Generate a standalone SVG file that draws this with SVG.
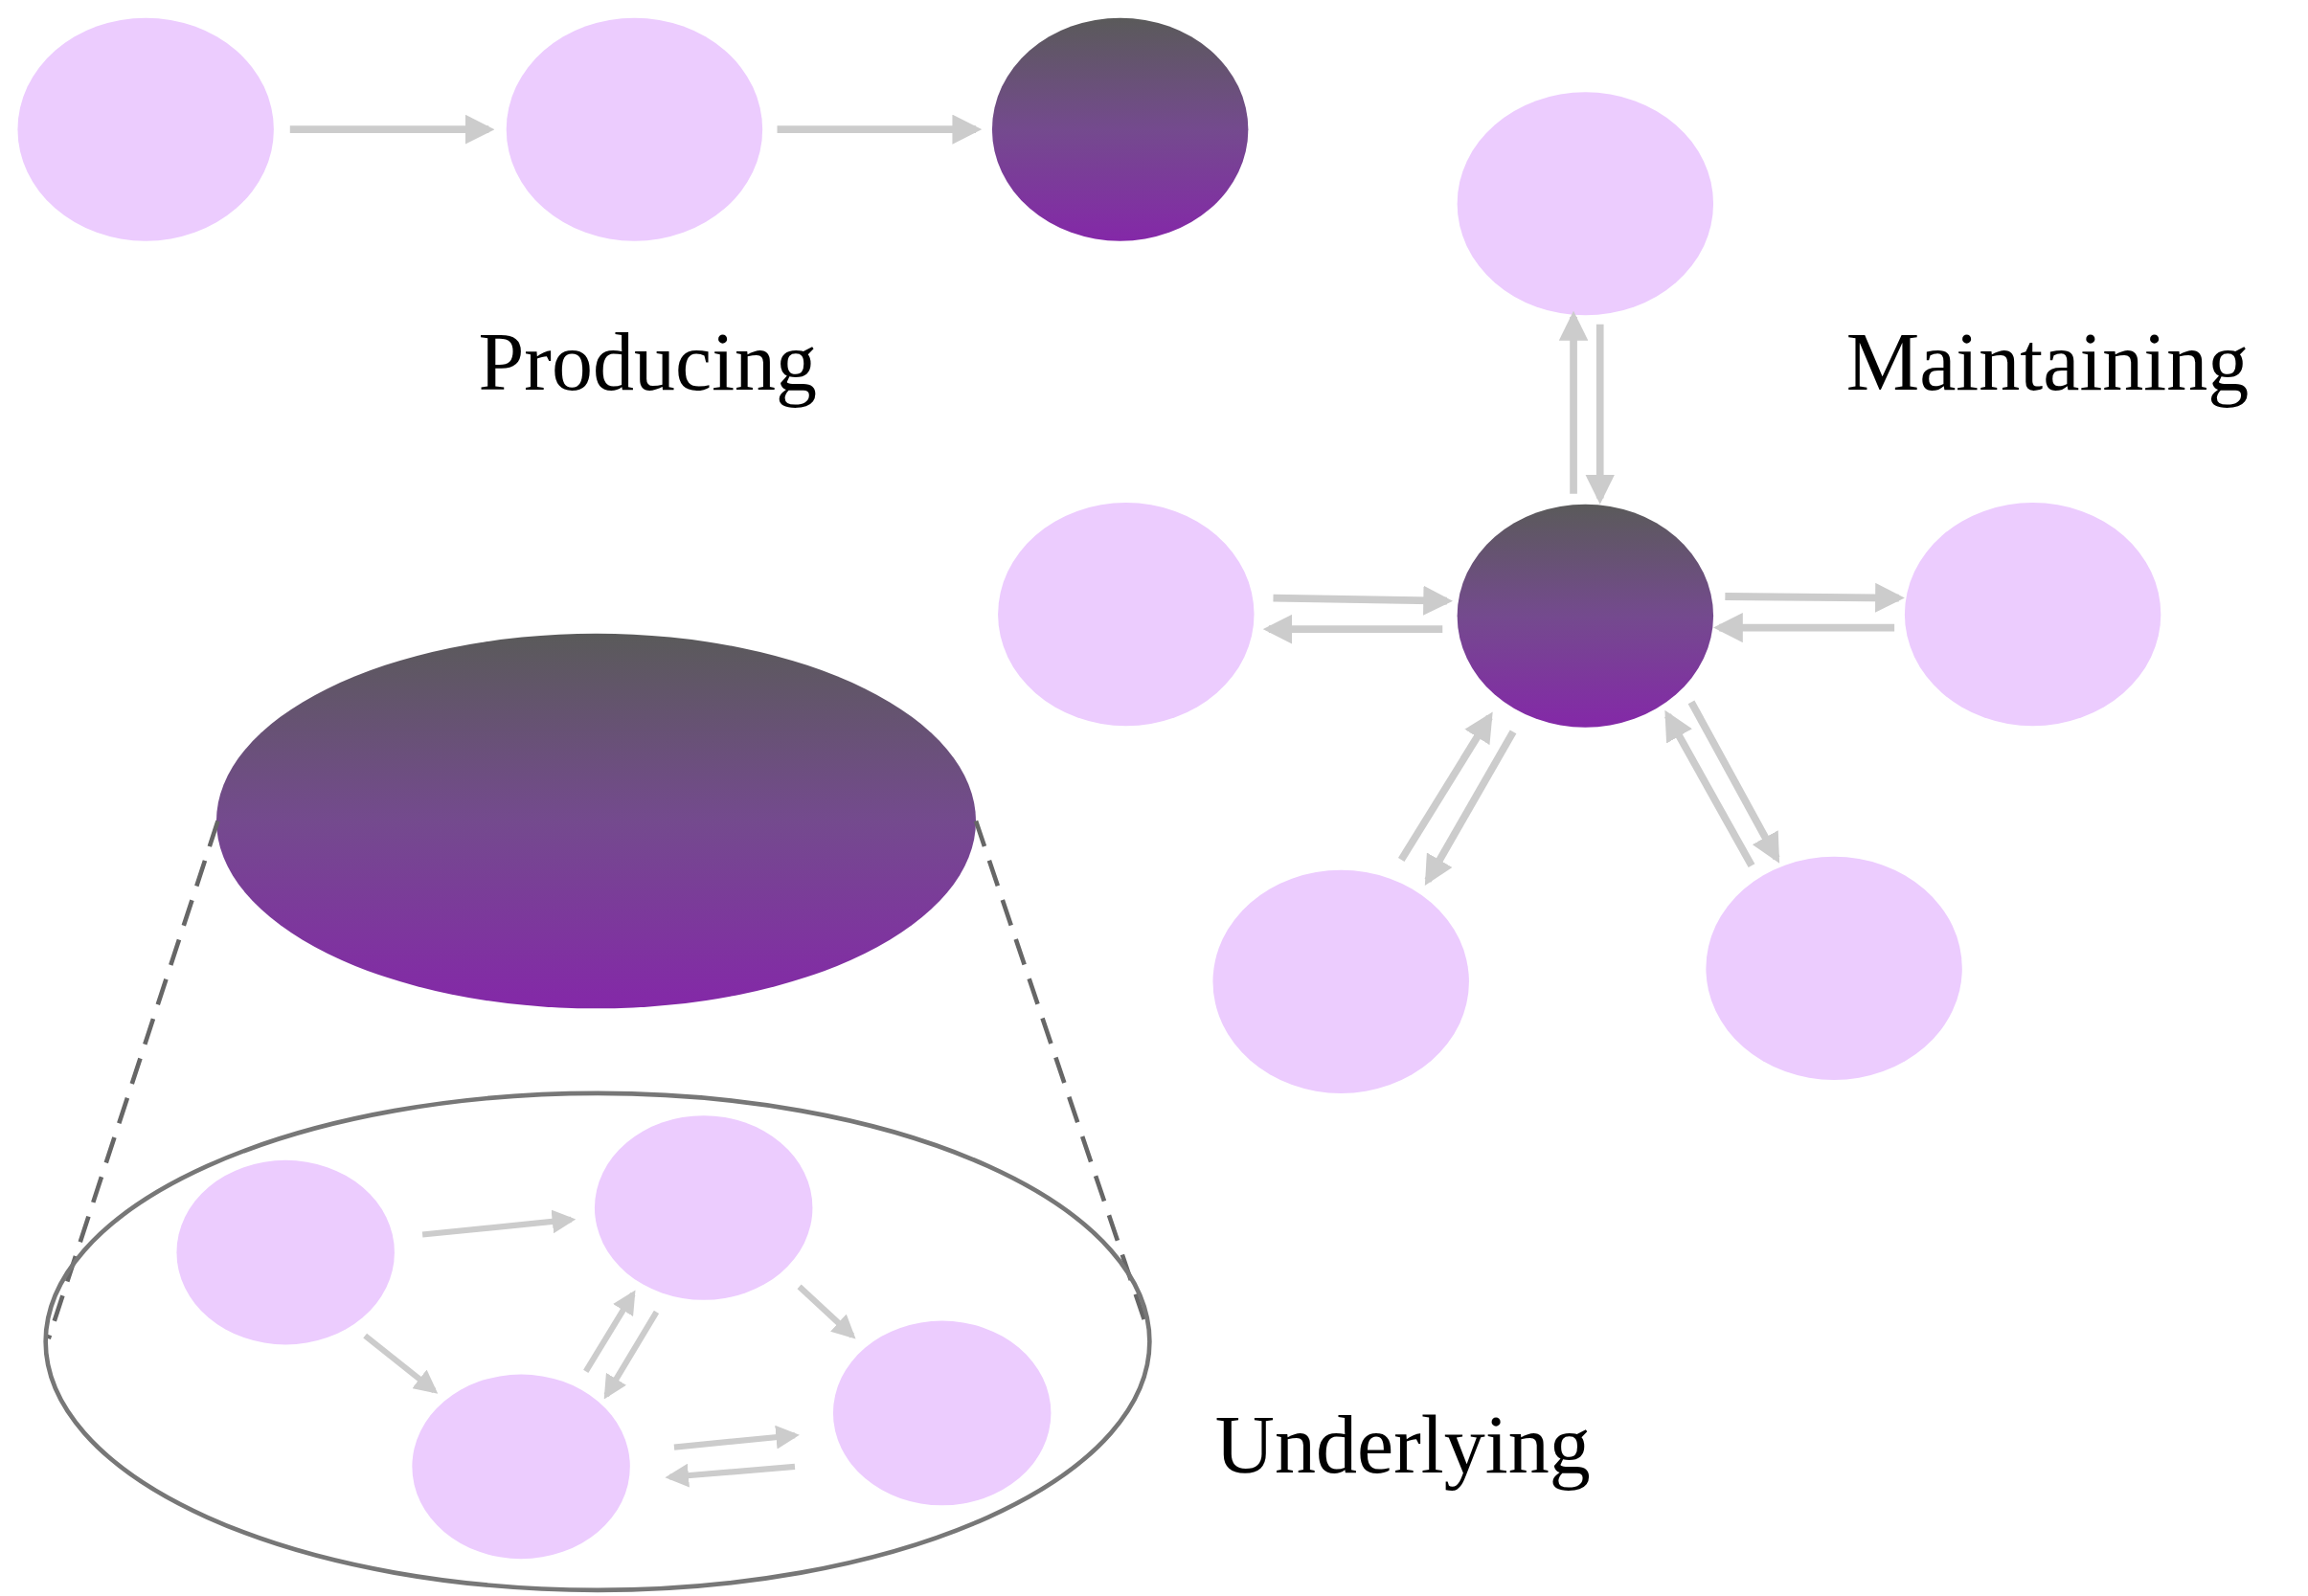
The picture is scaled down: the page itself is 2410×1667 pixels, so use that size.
<svg xmlns="http://www.w3.org/2000/svg" width="2410" height="1667" viewBox="0 0 2410 1667">
<defs>
<linearGradient id="dg" x1="0" y1="0" x2="0" y2="1">
<stop offset="0" stop-color="#5a5a5a"/><stop offset="0.5" stop-color="#744a8e"/><stop offset="1" stop-color="#8428a8"/>
</linearGradient>
<marker id="ah" viewBox="0 0 10 10" refX="8" refY="5" markerWidth="4" markerHeight="4" orient="auto" markerUnits="strokeWidth">
<path d="M0,0 L10,5 L0,10 z" fill="#cccccc"/>
</marker>
<style>
.l{fill:#ecccfe}
.d{fill:url(#dg)}
.a{stroke:#cccccc;stroke-width:5;fill:none;marker-end:url(#ah)}
.t{font-family:"Liberation Serif","DejaVu Serif",serif;font-size:56px;fill:#000}
</style>
</defs>
<rect width="2410" height="1667" fill="#fff"/>
<g transform="scale(1.537 1.5536)">
<g id="p1"><ellipse class="l" cx="99" cy="87" rx="87" ry="75"/></g>
<g id="p2"><ellipse class="l" cx="431" cy="87" rx="87" ry="75"/></g>
<g id="p3"><ellipse class="d" cx="761" cy="87" rx="87" ry="75"/></g>
<g id="mc"><ellipse class="d" cx="1077" cy="414" rx="87" ry="75"/></g>
<g id="mt"><ellipse class="l" cx="1077" cy="137" rx="87" ry="75"/></g>
<g id="ml"><ellipse class="l" cx="765" cy="413" rx="87" ry="75"/></g>
<g id="mr"><ellipse class="l" cx="1381" cy="413" rx="87" ry="75"/></g>
<g id="mbl"><ellipse class="l" cx="911" cy="660" rx="87" ry="75"/></g>
<g id="mbr"><ellipse class="l" cx="1246" cy="651" rx="87" ry="75"/></g>
<g id="big"><ellipse class="d" cx="405" cy="552" rx="258" ry="126"/></g>
<g id="zoom">
<line x1="148" y1="552" x2="33" y2="900" stroke="#666" stroke-width="3" stroke-dasharray="18 10"/>
<line x1="663" y1="552" x2="780" y2="895" stroke="#666" stroke-width="3" stroke-dasharray="18 10"/>
<ellipse cx="406" cy="902" rx="375" ry="167" fill="none" stroke="#777" stroke-width="3"/>
</g>
<g id="ua"><ellipse class="l" cx="194" cy="842" rx="74" ry="62"/></g>
<g id="ub"><ellipse class="l" cx="478" cy="812" rx="74" ry="62"/></g>
<g id="uc"><ellipse class="l" cx="354" cy="986" rx="74" ry="62"/></g>
<g id="ud"><ellipse class="l" cx="640" cy="950" rx="74" ry="62"/></g>
<g id="connectors">
<line class="a" x1="197" y1="87" x2="332" y2="87"/>
<line class="a" x1="528" y1="87" x2="663" y2="87"/>
<line class="a" x1="1069" y1="332" x2="1069" y2="213"/>
<line class="a" x1="1087" y1="218" x2="1087" y2="335"/>
<line class="a" x1="865" y1="402" x2="983" y2="404"/>
<line class="a" x1="980" y1="423" x2="862" y2="423"/>
<line class="a" x1="1172" y1="401" x2="1290" y2="402"/>
<line class="a" x1="1287" y1="422" x2="1168" y2="422"/>
<line class="a" x1="952" y1="578" x2="1012" y2="482"/>
<line class="a" x1="1028" y1="492" x2="970" y2="592"/>
<line class="a" x1="1190" y1="582" x2="1133" y2="481"/>
<line class="a" x1="1149" y1="472" x2="1207" y2="577"/>
<line class="a" style="stroke-width:4" x1="287" y1="830" x2="388" y2="820"/>
<line class="a" style="stroke-width:4" x1="248" y1="898" x2="295" y2="935"/>
<line class="a" style="stroke-width:4" x1="543" y1="865" x2="579" y2="898"/>
<line class="a" style="stroke-width:4" x1="398" y1="922" x2="430" y2="870"/>
<line class="a" style="stroke-width:4" x1="446" y1="882" x2="412" y2="938"/>
<line class="a" style="stroke-width:4" x1="458" y1="973" x2="540" y2="965"/>
<line class="a" style="stroke-width:4" x1="540" y1="986" x2="455" y2="993"/>
</g>
<text class="t" x="440" y="262" text-anchor="middle">Producing</text>
<text class="t" x="1391" y="262" text-anchor="middle">Maintaining</text>
<text class="t" x="953" y="990" text-anchor="middle">Underlying</text>
</g>
</svg>
